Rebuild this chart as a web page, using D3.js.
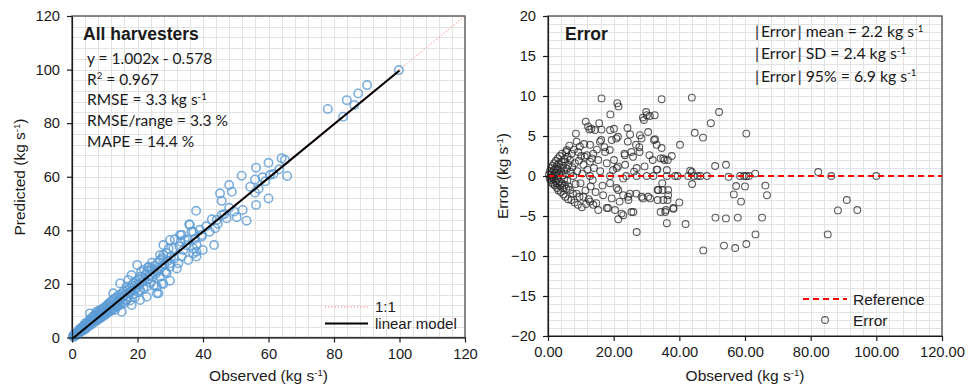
<!DOCTYPE html>
<html><head><meta charset="utf-8">
<script src="https://cdn.jsdelivr.net/npm/d3@7"></script>
<style>
body{margin:0;background:#fff;}
svg text{font-family:"Liberation Sans",Arial,sans-serif;fill:#1a1a1a;}
.note{font-family:Lato,"Open Sans",sans-serif !important;}
</style>
</head><body>
<svg id="chart" width="978" height="386"></svg>
<script>
// ---------- DATA ----------
// Left panel: [observed, predicted] (kg s-1)
const leftObsPred = [
[0.3,0.5],[0.5,0.2],[0.6,1.0],[0.8,0.6],[1.0,1.3],[1.1,0.8],[1.3,1.6],[1.5,1.1],[1.6,2.0],[1.8,1.4],[2.0,2.4],[2.1,1.7],[2.2,2.9],[2.4,2.0],[2.5,3.3],[2.6,2.3],[2.8,2.6],[3.0,3.6],[3.0,2.4],[3.2,3.9],[3.3,2.8],[3.5,3.2],[3.6,4.4],[3.8,3.4],[4.0,5.3],[4.0,3.0],[4.2,4.6],[4.4,3.7],[4.6,5.4],[4.8,4.0],[5.0,6.0],[5.0,4.4],
[5.2,5.1],[5.4,6.7],[5.5,9.0],[5.6,4.6],[5.8,5.9],[6.0,7.3],[6.1,5.2],[6.3,6.4],[6.5,7.8],[6.6,5.5],[6.8,8.2],[7.0,6.2],[7.1,7.1],[7.3,8.8],[7.5,9.6],[7.5,6.3],[7.7,7.6],[7.9,8.9],[8.0,6.7],[8.2,8.1],[8.4,9.4],[8.5,7.2],[8.5,10.3],[8.7,8.4],[8.9,7.5],[9.0,10.0],[9.2,8.9],[9.4,10.8],[9.5,7.9],[9.7,9.3],[9.9,11.1],[10.0,8.4],
[10.2,9.9],[10.4,11.7],[10.5,8.8],[10.7,10.3],[10.9,12.3],[11.0,9.4],[11.2,10.8],[11.4,12.9],[11.6,12.1],[11.6,9.7],[11.8,11.2],[12.0,13.4],[12.1,10.2],[12.3,11.8],[12.5,14.2],[12.6,16.5],[12.7,10.9],[12.9,12.4],[13.1,10.3],[13.1,14.6],[13.3,12.6],[13.5,11.5],[13.7,15.1],[13.9,13.0],[14.1,14.0],[14.1,11.8],[14.3,15.8],[14.5,13.5],[14.7,20.2],[14.7,12.2],[14.9,14.6],[15.2,9.6],[15.2,16.3],
[15.4,13.2],[15.6,15.2],[15.8,17.3],[16.0,12.8],[16.2,16.0],[16.4,14.0],[16.7,19.0],[16.7,14.0],[16.9,17.6],[17.1,15.3],[17.2,21.5],[17.4,16.4],[17.6,18.6],[17.8,13.9],[18.0,17.2],[18.2,23.3],[18.2,12.1],[18.4,19.4],[18.6,16.1],[18.8,20.3],[19.0,17.8],[19.2,15.0],[19.4,21.0],[19.6,18.5],[19.9,27.1],[19.9,19.6],[20.2,16.9],
[20.4,21.6],[20.6,19.8],[20.8,22.7],[20.8,17.7],[20.8,14.0],[21.1,24.6],[21.3,20.6],[21.6,22.3],[21.8,18.3],[22.0,25.3],[22.2,21.1],[22.5,23.5],[22.8,19.0],[22.8,15.2],[23.0,24.8],[23.2,26.2],[23.4,21.8],[23.6,26.4],[23.8,23.0],[24.0,20.4],[24.2,25.6],[24.4,27.9],[24.6,22.6],[24.8,24.3],[25.0,19.5],
[25.3,26.7],[25.5,23.6],[25.9,24.6],[25.9,19.0],[25.9,16.5],[26.2,28.0],[26.4,16.5],[26.6,25.2],[26.9,30.8],[26.9,22.7],[26.9,28.9],[27.2,26.4],[27.4,20.2],[27.6,29.6],[27.9,30.8],[27.9,34.5],[27.9,20.0],[28.2,27.3],[28.5,24.5],[28.9,24.0],[28.9,31.5],[29.2,28.6],[29.5,33.2],[29.9,36.4],[29.9,26.4],[29.9,27.7],[29.9,21.2],[30.2,30.1],
[30.9,33.3],[31.2,29.5],[31.4,36.7],[32.0,25.8],[32.5,27.7],[32.8,34.0],[33.0,38.3],[33.2,35.8],[33.5,30.2],[33.5,38.3],[34.0,32.6],[34.5,36.4],[35.0,34.4],[35.5,28.9],[35.5,36.4],[35.8,42.3],[36.0,42.0],[36.5,39.5],[37.0,33.3],[37.0,31.4],[37.0,39.5],[37.5,36.8],[37.9,47.3],[38.0,32.0],[38.0,30.2],[38.1,34.5],[39.0,40.2],[39.6,38.3],[39.6,37.6],[39.9,32.7],
[41.0,41.5],[42.0,39.5],[42.7,44.1],[43.4,34.5],[43.7,40.8],[44.2,43.9],[44.5,42.5],[45.2,53.8],[45.7,45.7],[45.7,51.0],[46.5,46.0],[47.2,44.5],[48.0,56.9],[48.0,48.4],[48.8,54.4],[49.5,47.0],[50.3,44.9],
[51.8,60.4],[52.1,47.6],[53.3,43.6],[54.4,56.3],[55.9,59.0],[55.9,54.0],[56.2,63.4],[56.2,49.5],[57.0,55.5],[58.2,59.8],[59.0,58.3],[60.0,65.2],[60.0,51.9],[60.5,60.7],[61.5,61.0],[63.3,62.8],[64.0,66.9],[65.0,66.3],[65.7,60.3],
[78.1,85.3],[82.8,82.4],[83.9,88.6],[86.2,86.8],[87.4,91.1],[90.1,94.2],[99.8,99.8]
];

// Right panel: [observed, error] (kg s-1)
const rightObsErr = [
[0.3,0.2],[0.5,-0.3],[0.6,0.6],[0.8,-0.5],[0.9,0.1],[1.0,1.0],[1.1,-0.8],[1.2,0.4],[1.3,-0.2],[1.4,1.3],[1.5,0.0],[1.6,-1.0],[1.7,0.7],[1.8,-0.4],[1.9,1.6],[2.0,0.2],[2.1,-1.2],[2.2,0.9],[2.3,-0.6],[2.4,1.9],[2.5,0.4],[2.6,-0.9],[2.7,1.2],[2.8,-1.5],[2.9,0.0],[3.0,2.2],[3.0,-0.3],[3.1,0.8],[3.2,-1.8],[3.3,1.5],[3.4,-0.7],[3.5,0.3],[3.6,2.5],[3.7,-1.2],[3.8,1.0],[3.9,-2.0],[4.0,0.5],[4.1,1.8],[4.2,-0.9],[4.3,2.8],[4.4,-1.5],[4.5,0.1],[4.6,1.3],[4.7,-2.3],[4.8,0.7],[4.9,-0.4],[5.0,2.1],[5.1,-1.1],[5.2,1.8],[5.3,-2.6],[5.4,0.3],[5.5,3.0],[5.6,-1.6],[5.7,3.25],[5.8,0.9],[5.9,-0.6],[6.0,2.4],[6.1,-2.9],[6.2,1.4],
[6.3,-1.3],[6.5,3.8],[6.7,2.0],[6.7,-1.75],[6.9,0.5],[7.1,-3.0],[7.2,2.8],[7.4,1.1],[7.6,-2.2],[7.7,0.0],[7.9,3.3],[8.1,-3.3],[8.2,1.6],[8.4,-1.0],[8.5,5.3],[8.7,4.3],[8.7,-2.2],[8.9,0.6],[9.1,-3.6],[9.2,3.0],[9.4,1.9],[9.6,-2.6],[9.7,3.7],[9.9,-0.9],[10.1,2.5],[10.3,-3.9],[10.5,0.3],[10.8,1.4],[10.8,-2.6],[11.0,4.0],[11.2,2.4],[11.4,-1.8],[11.5,6.8],[11.6,-3.5],[11.8,2.6],[12.0,0.8],[12.2,6.2],[12.4,-2.9],[12.6,5.8],[12.8,3.9],[12.8,1.8],[12.8,0.0],[12.8,-3.2],[13.0,-1.3],[13.2,5.9],[13.4,2.2],[13.6,-0.5],[13.8,2.8],[13.8,-3.6],[14.0,1.0],[14.3,5.75],[14.5,-2.0],[14.7,-3.4],[14.9,3.3],[15.3,2.0],[15.3,-4.25],[15.6,6.6],
[15.8,4.3],[15.9,0.6],[16.2,4.5],[16.3,9.7],[16.3,5.8],[16.6,-1.2],[16.8,-2.4],[17.2,3.6],[17.4,3.0],[17.9,1.6],[17.9,-4.0],[18.3,-4.0],[18.8,3.25],[18.9,5.75],[18.9,0.0],[18.9,-0.9],[19.0,7.7],[19.4,4.5],[19.4,-2.8],[19.8,0.75],[20.1,5.9],[20.1,2.0],[20.4,-4.25],[20.8,4.7],[20.9,1.0],[20.9,-1.5],[21.1,9.1],[21.3,4.9],[21.3,1.2],[21.4,-5.4],[21.4,-1.75],[21.5,8.7],[21.8,-3.2],[22.4,-4.7],[22.9,-4.9],[22.9,-0.3],[22.9,-2.4],[23.3,2.8],[23.4,2.6],[23.5,1.4],[23.8,0.0],[24.2,6.0],[24.3,4.3],[24.4,-2.6],[24.5,-3.0],[25.0,5.2],[25.0,-2.2],[25.4,3.0],[25.4,-4.5],[25.9,2.4],[26.0,-4.5],[26.2,0.55],[26.8,3.9],[26.9,-2.2],[27.0,1.0],[27.0,0.0],[27.0,-7.0],[27.8,3.6],[27.9,3.0],[28.0,5.1],[28.5,4.7],[28.5,-2.6],[28.9,7.3],[28.9,-2.8],[29.2,7.0],[29.4,1.2],[29.9,8.0],[30.1,7.6],[30.1,0.0],[30.5,5.5],[30.5,-2.6],[30.9,2.6],
[31.0,7.5],[31.1,-2.8],[31.9,2.0],[32.1,0.0],[32.3,4.5],[32.5,7.6],[32.6,4.6],[33.1,0.8],[33.1,3.9],[33.3,0.8],[33.4,-1.75],[33.4,-3.0],[33.6,-1.75],[34.3,2.2],[34.3,-4.5],[34.6,9.6],[34.6,3.5],[34.8,-0.9],[34.9,-1.75],[35.1,2.2],[35.1,-3.0],[35.5,2.0],[35.7,-4.5],[35.9,-4.25],[36.2,0.0],[36.2,0.75],[36.2,-5.9],[36.4,-3.0],[36.5,2.0],[36.6,-1.75],[36.6,-2.4],[37.7,2.5],[38.2,-4.0],[38.2,-4.1],[38.7,0.0],[39.5,0.0],[40.0,-3.3],[40.2,3.9],[41.9,-6.0],[42.7,0.0],[43.3,0.67],[43.8,9.8],[43.8,0.5],[43.9,-1.0],[44.4,0.0],[44.7,5.4],[45.6,0.0],
[46.4,0.0],[47.2,4.8],[47.3,-9.3],[48.4,0.0],[49.6,6.6],[50.9,1.25],[51.0,-5.2],[52.1,8.0],[53.6,-8.7],[54.2,1.4],[54.2,-5.3],[55.0,-0.1],[56.6,-2.3],[57.0,-9.0],[57.3,-1.25],[57.8,-5.2],[58.5,0.0],[58.8,-3.2],[59.7,0.0],[60.0,-1.3],[60.4,5.3],[60.4,0.0],[60.4,-8.5],[61.2,0.0],[63.1,0.3],[63.2,-7.3],[65.2,-5.2],[66.2,-1.2],[66.7,-2.4],[82.3,0.5],[85.2,-7.3],[86.3,0.0],[88.3,-4.3],[91.0,-3.0],[94.2,-4.25],[100.0,0.0]
];

const xTickValues = [0,20,40,60,80,100,120];
const leftYTickValues = [0,20,40,60,80,100,120];
const rightYTickValues = [-20,-15,-10,-5,0,5,10,15,20];
const fitSlope = 1.002, fitIntercept = -0.578, fitMaxX = 100;
const leftTitle = "All harvesters";
const leftStats = ["y = 1.002x - 0.578","R^{2} = 0.967","RMSE = 3.3 kg s^{-1}","RMSE/range = 3.3 %","MAPE = 14.4 %"];
const rightTitle = "Error";
const rightStats = ["|\u2009Error\u2009| mean = 2.2 kg s^{-1}","|\u2009Error\u2009| SD = 2.4 kg s^{-1}","|\u2009Error\u2009| 95% = 6.9 kg s^{-1}"];
const leftLegend = ["1:1","linear model"];
const rightLegend = ["Reference","Error"];
const xAxisTitle = "Observed (kg s^{-1})";
const leftYAxisTitle = "Predicted (kg s^{-1})";
const rightYAxisTitle = "Error (kg s^{-1})";

// ---------- DRAW ----------
const svg = d3.select("#chart");

function rich(sel, str){
  const parts = str.split(/\^\{(.*?)\}/);
  let shifted = false;
  parts.forEach((p,i)=>{
    if(p==="") { return; }
    const isSup = i%2===1;
    const t = sel.append("tspan").text(p);
    if(isSup){ t.attr("font-size","0.62em").attr("dy","-0.55em"); shifted=true; }
    else if(shifted){ t.attr("dy","0.34em"); shifted=false; }
  });
}

function panel(cfg){
  const g = svg.append("g");
  const x = d3.scaleLinear().domain([0,120]).range(cfg.xr);
  const y = d3.scaleLinear().domain(cfg.yd).range(cfg.yr);
  const grid = g.append("g").attr("stroke","#e3e3e3").attr("stroke-width",1);
  grid.selectAll("line.gx").data(cfg.gridX).join("line")
    .attr("x1",d=>Math.round(x(d))+0.5).attr("x2",d=>Math.round(x(d))+0.5)
    .attr("y1",cfg.yr[1]).attr("y2",cfg.yr[0]);
  grid.selectAll("line.gy").data(cfg.gridY).join("line")
    .attr("y1",d=>Math.round(y(d))+0.5).attr("y2",d=>Math.round(y(d))+0.5)
    .attr("x1",cfg.xr[0]).attr("x2",cfg.xr[1]);
  g.append("rect").attr("x",cfg.xr[0]).attr("y",cfg.yr[1])
    .attr("width",cfg.xr[1]-cfg.xr[0]).attr("height",cfg.yr[0]-cfg.yr[1])
    .attr("fill","none").attr("stroke","#4d4d4d").attr("stroke-width",1.3);
  return {g,x,y};
}

// Left panel
const L = panel({xr:[72,465], yd:[0,120], yr:[337.5,16], gridX:d3.range(0,121,4), gridY:d3.range(0,121,4)});
L.g.append("line").attr("x1",L.x(0)).attr("y1",L.y(0)).attr("x2",L.x(120)).attr("y2",L.y(120))
  .attr("stroke","#ff7b7b").attr("stroke-width",1).attr("stroke-dasharray","1.2,2");
L.g.append("g").selectAll("circle").data(leftObsPred).join("circle")
  .attr("cx",d=>L.x(d[0])).attr("cy",d=>L.y(d[1])).attr("r",4.2)
  .attr("fill","none").attr("stroke","#5b9bd5").attr("stroke-width",1.6).attr("stroke-opacity",0.8);
L.g.append("line").attr("x1",L.x(0)).attr("y1",L.y(fitIntercept)).attr("x2",L.x(fitMaxX)).attr("y2",L.y(fitSlope*fitMaxX+fitIntercept))
  .attr("stroke","#000").attr("stroke-width",2);

// Right panel
const R = panel({xr:[548,942], yd:[-20,20], yr:[336,16], gridX:d3.range(0,121,4), gridY:d3.range(-20,21,1)});
R.g.append("g").selectAll("circle").data(rightObsErr).join("circle")
  .attr("cx",d=>R.x(d[0])).attr("cy",d=>R.y(d[1])).attr("r",3.4)
  .attr("fill","none").attr("stroke","#262626").attr("stroke-width",1.1).attr("stroke-opacity",0.75);
R.g.append("line").attr("x1",R.x(0)).attr("x2",R.x(120)).attr("y1",R.y(0)).attr("y2",R.y(0))
  .attr("stroke","#ff0000").attr("stroke-width",2).attr("stroke-dasharray","6,4");

// Axes
function styleAxis(a){
  a.select(".domain").attr("stroke","#1a1a1a").attr("stroke-width",1.2);
  a.selectAll(".tick line").attr("stroke","#1a1a1a").attr("stroke-width",1.2);
  a.selectAll(".tick text").attr("font-size","14.7px").attr("fill","#1a1a1a")
   .attr("font-family","'Liberation Sans',Arial,sans-serif");
}
styleAxis(svg.append("g").attr("transform","translate(0,337.5)")
  .call(d3.axisBottom(L.x).tickValues(xTickValues).tickSize(5).tickSizeOuter(0).tickPadding(6).tickFormat(d3.format("d"))));
styleAxis(svg.append("g").attr("transform","translate(72,0)")
  .call(d3.axisLeft(L.y).tickValues(leftYTickValues).tickSize(5).tickSizeOuter(0).tickPadding(7).tickFormat(d3.format("d"))));
styleAxis(svg.append("g").attr("transform","translate(0,336)")
  .call(d3.axisBottom(R.x).tickValues(xTickValues).tickSize(5).tickSizeOuter(0).tickPadding(6).tickFormat(d3.format(".2f"))));
styleAxis(svg.append("g").attr("transform","translate(548,0)")
  .call(d3.axisLeft(R.y).tickValues(rightYTickValues).tickSize(5).tickSizeOuter(0).tickPadding(7).tickFormat(d3.format("d"))));

// Axis titles
function title(x,y,str,rot){
  const t = svg.append("text").attr("text-anchor","middle").attr("font-size","15.5px")
    .attr("transform",`translate(${x},${y})`+(rot?" rotate(-90)":""));
  rich(t,str);
}
title(268.5,381,xAxisTitle,false);
title(745,381,xAxisTitle,false);
title(25,177,leftYAxisTitle,true);
title(508,176,rightYAxisTitle,true);

// Annotations left
svg.append("text").attr("x",83).attr("y",39.5).attr("font-weight","bold").attr("font-size","17.5px").text(leftTitle);
leftStats.forEach((s,i)=>{
  const t = svg.append("text").attr("class","note").attr("x",87).attr("y",64+i*20.7).attr("font-size","15.5px");
  rich(t,s);
});
// Annotations right
svg.append("text").attr("x",565).attr("y",40).attr("font-weight","bold").attr("font-size","17.5px").text(rightTitle);
rightStats.forEach((s,i)=>{
  const t = svg.append("text").attr("class","note").attr("x",755).attr("y",37+i*22.3).attr("font-size","15.8px");
  rich(t,s);
});

// Legends
const lg = svg.append("g");
lg.append("line").attr("x1",325).attr("x2",368).attr("y1",307).attr("y2",307)
  .attr("stroke","#ff7b7b").attr("stroke-width",1).attr("stroke-dasharray","1.2,2");
lg.append("text").attr("x",375).attr("y",311.5).attr("font-size","15px").text(leftLegend[0]);
lg.append("line").attr("x1",325).attr("x2",368).attr("y1",323.5).attr("y2",323.5)
  .attr("stroke","#000").attr("stroke-width",2);
lg.append("text").attr("x",375).attr("y",329).attr("font-size","15px").text(leftLegend[1]);

const rg = svg.append("g");
rg.append("line").attr("x1",803).attr("x2",847).attr("y1",299).attr("y2",299)
  .attr("stroke","#ff0000").attr("stroke-width",2).attr("stroke-dasharray","6,4");
rg.append("text").attr("x",853).attr("y",304.5).attr("font-size","15.5px").text(rightLegend[0]);
rg.append("circle").attr("cx",825).attr("cy",320).attr("r",3.4)
  .attr("fill","none").attr("stroke","#262626").attr("stroke-width",1.1).attr("stroke-opacity",0.75);
rg.append("text").attr("x",853).attr("y",325.5).attr("font-size","15.5px").text(rightLegend[1]);
</script>
</body></html>
